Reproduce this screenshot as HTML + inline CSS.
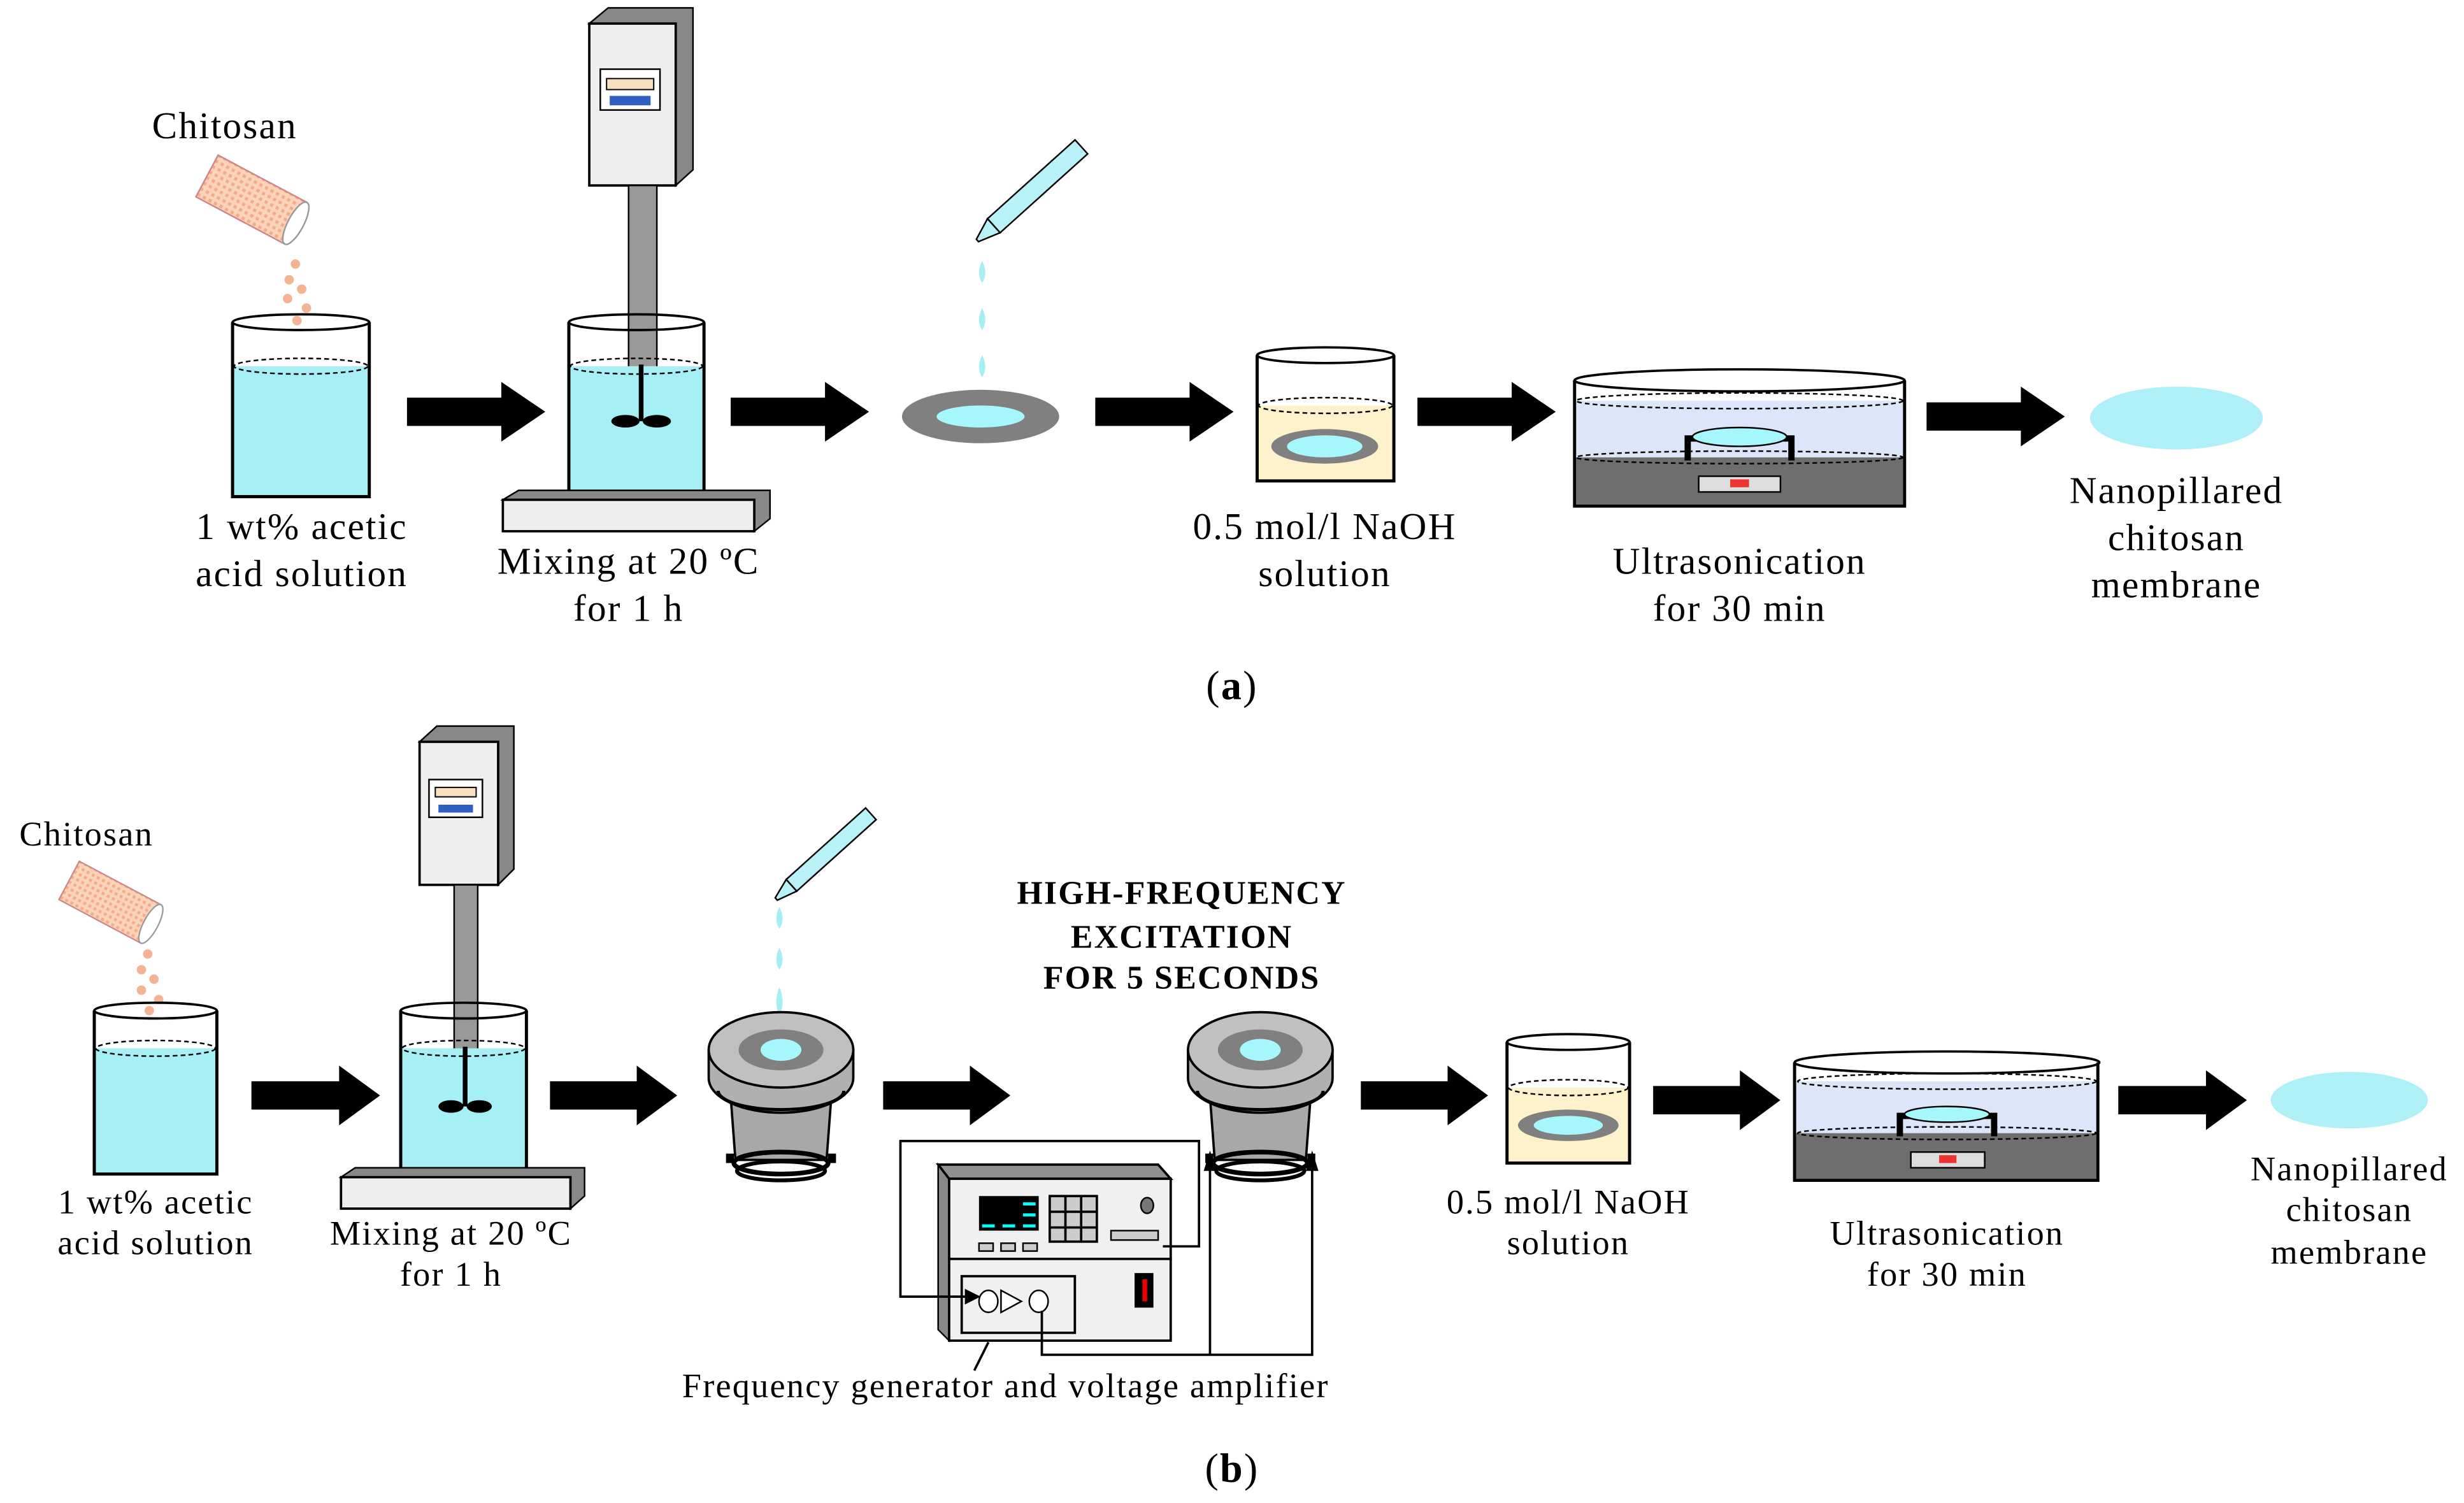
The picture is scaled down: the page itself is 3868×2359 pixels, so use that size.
<!DOCTYPE html>
<html><head><meta charset="utf-8"><style>html,body{margin:0;padding:0;background:#fff}svg{display:block}text{letter-spacing:0.9px}</style></head><body>
<svg width="3868" height="2359" viewBox="0 0 1568 956.3" preserveAspectRatio="none" xmlns="http://www.w3.org/2000/svg" font-family="'Liberation Serif',serif">
<defs>
<g id="arrow"><polygon points="0,-9 60,-9 60,-19 88,0 60,19 60,9 0,9" fill="#000"/></g>
<pattern id="pk" width="4" height="4" patternUnits="userSpaceOnUse"><rect width="4" height="4" fill="#fbd3b8"/><rect width="2" height="2" fill="#f5a98a"/></pattern>
<g id="tube"><g transform="rotate(28)"><rect x="-32" y="-15" width="64" height="30" fill="url(#pk)" stroke="#c88" stroke-width="1"/><ellipse cx="32" cy="0" rx="5" ry="15" fill="#fff" stroke="#999"/></g></g>
<g id="holder">
<path d="M-32,30 L-29,70 L29,70 L32,30 Z" fill="#a8a8a8" stroke="#000" stroke-width="1.5"/>
<path d="M-46,0 L-46,18 A46,22 0 0 0 46,18 L46,0 Z" fill="#b0b0b0" stroke="#000" stroke-width="1.5"/>
<path d="M-40,26 A40,12 0 0 0 40,26" fill="none" stroke="#000" stroke-width="2"/>
<ellipse cx="0" cy="0" rx="46" ry="24" fill="#c0c0c0" stroke="#000" stroke-width="1.5"/>
<ellipse cx="0" cy="0" rx="27" ry="13" fill="#808080"/>
<ellipse cx="0" cy="0" rx="13" ry="7" fill="#a6f7fb"/>
<ellipse cx="0" cy="72" rx="30" ry="7" fill="none" stroke="#000" stroke-width="3"/>
<ellipse cx="0" cy="77" rx="28" ry="6" fill="none" stroke="#000" stroke-width="2.5"/>
<rect x="-35" y="66" width="5" height="6" fill="#000"/><rect x="30" y="66" width="5" height="6" fill="#000"/>
</g>
</defs>

<!-- ========== (a) ========== -->
<text x="143" y="88" font-size="24" text-anchor="middle">Chitosan</text>
<use href="#tube" transform="translate(160,127)"/>
<g fill="#f5b395"><circle cx="188" cy="168" r="3"/><circle cx="184" cy="178" r="3"/><circle cx="192" cy="184" r="3"/><circle cx="183" cy="190" r="3"/><circle cx="195" cy="196" r="3"/><circle cx="189" cy="204" r="3"/></g>
<rect x="149" y="233" width="85" height="82" fill="#a6f0f5"/>
<ellipse cx="191.5" cy="233" rx="42.5" ry="5" fill="none" stroke="#000" stroke-dasharray="3,2"/>
<path d="M148,205 L148,316 L235,316 L235,205" fill="none" stroke="#000" stroke-width="2"/>
<ellipse cx="191.5" cy="205" rx="43.5" ry="5" fill="none" stroke="#000" stroke-width="1.5"/>
<text font-size="24" text-anchor="middle"><tspan x="192" y="343">1 wt% acetic</tspan><tspan x="192" y="373">acid solution</tspan></text>
<use href="#arrow" transform="translate(259,262)"/>
<polygon points="375,15 387,5 441,5 441,108 430,118 430,15" fill="#888" stroke="#000"/>
<rect x="375" y="15" width="55" height="103" fill="#eee" stroke="#000" stroke-width="1.5"/>
<rect x="382" y="44" width="38" height="26" fill="#fff" stroke="#000"/>
<rect x="386" y="50" width="30" height="7" fill="#f6e0c0" stroke="#000" stroke-width=".8"/>
<rect x="388" y="61" width="26" height="6" fill="#3060c0"/>
<rect x="400" y="118" width="18" height="150" fill="#999" stroke="#000"/>
<rect x="363" y="233" width="84" height="82" fill="#a6f0f5"/>
<ellipse cx="405" cy="233" rx="42" ry="5" fill="none" stroke="#000" stroke-dasharray="3,2"/>
<path d="M362,205 L362,316 L448,316 L448,205" fill="none" stroke="#000" stroke-width="2"/>
<ellipse cx="405" cy="205" rx="43" ry="5" fill="none" stroke="#000" stroke-width="1.5"/>
<line x1="408" y1="232" x2="408" y2="268" stroke="#000" stroke-width="3"/>
<ellipse cx="398" cy="268" rx="9" ry="4" fill="#000"/><ellipse cx="418" cy="268" rx="9" ry="4" fill="#000"/>
<polygon points="320,318 330,312 490,312 490,330 480,338 480,318" fill="#888" stroke="#000"/>
<rect x="320" y="318" width="160" height="20" fill="#eee" stroke="#000" stroke-width="1.5"/>
<text font-size="24" text-anchor="middle"><tspan x="400" y="365">Mixing at 20 ºC</tspan><tspan x="400" y="395">for 1 h</tspan></text>
<use href="#arrow" transform="translate(465,262)"/>
<g transform="translate(622,153) rotate(-42)"><rect x="14" y="-6" width="75" height="12" fill="#b8f2f8" stroke="#000"/><polygon points="14,-6 0,-1 0,1 14,6" fill="#b8f2f8" stroke="#000"/></g>
<g fill="#a6eef5"><path d="M625,166 q4,8 0,14 q-4,-6 0,-14z"/><path d="M625,196 q4,8 0,14 q-4,-6 0,-14z"/><path d="M625,226 q4,8 0,14 q-4,-6 0,-14z"/></g>
<ellipse cx="624" cy="265" rx="50" ry="17" fill="#808080"/>
<ellipse cx="624" cy="265" rx="28" ry="7" fill="#a6f7fb"/>
<use href="#arrow" transform="translate(697,262)"/>
<rect x="801" y="258" width="85" height="47" fill="#fdf2cc"/>
<ellipse cx="843.5" cy="258" rx="42.5" ry="5" fill="none" stroke="#000" stroke-dasharray="3,2"/>
<ellipse cx="843" cy="284" rx="34" ry="11" fill="#808080"/><ellipse cx="843" cy="284" rx="24" ry="7" fill="#a6f7fb"/>
<path d="M800,226 L800,306 L887,306 L887,226" fill="none" stroke="#000" stroke-width="2"/>
<ellipse cx="843.5" cy="226" rx="43.5" ry="5" fill="none" stroke="#000" stroke-width="1.5"/>
<text font-size="24" text-anchor="middle"><tspan x="843" y="343">0.5 mol/l NaOH</tspan><tspan x="843" y="373">solution</tspan></text>
<use href="#arrow" transform="translate(902,262)"/>
<rect x="1003" y="255" width="208" height="36" fill="#dde6f8"/>
<rect x="1003" y="291" width="208" height="30" fill="#6e6e6e"/>
<ellipse cx="1107" cy="291" rx="104" ry="4" fill="none" stroke="#000" stroke-dasharray="3,2"/>
<ellipse cx="1107" cy="255" rx="104" ry="5" fill="none" stroke="#000" stroke-dasharray="3,2"/>
<path d="M1002,242 L1002,322 L1212,322 L1212,242" fill="none" stroke="#000" stroke-width="2"/>
<ellipse cx="1107" cy="242" rx="105" ry="7" fill="none" stroke="#000" stroke-width="1.5"/>
<path d="M1074,293 L1074,279 L1140,279 L1140,293" fill="none" stroke="#000" stroke-width="4"/>
<ellipse cx="1107" cy="278" rx="30" ry="6" fill="#a6f7fb" stroke="#000"/>
<rect x="1081" y="303" width="52" height="10" fill="#ddd" stroke="#000"/><rect x="1101" y="305" width="12" height="5" fill="#e33"/>
<text font-size="24" text-anchor="middle"><tspan x="1107" y="365">Ultrasonication</tspan><tspan x="1107" y="395">for 30 min</tspan></text>
<use href="#arrow" transform="translate(1226,265)"/>
<ellipse cx="1385" cy="266" rx="55" ry="20" fill="#aef0f5"/>
<text font-size="24" text-anchor="middle"><tspan x="1385" y="320">Nanopillared</tspan><tspan x="1385" y="350">chitosan</tspan><tspan x="1385" y="380">membrane</tspan></text>
<text x="784" y="445" font-size="26" text-anchor="middle">(<tspan font-weight="bold">a</tspan>)</text>

<!-- ========== (b) ========== -->
<text x="55" y="538" font-size="22" text-anchor="middle">Chitosan</text>
<use href="#tube" transform="translate(70,574) scale(0.92)"/>
<g fill="#f5b395"><circle cx="94" cy="607" r="3"/><circle cx="90" cy="617" r="3"/><circle cx="98" cy="623" r="3"/><circle cx="90" cy="630" r="3"/><circle cx="101" cy="636" r="3"/><circle cx="95" cy="643" r="3"/></g>
<rect x="61" y="667" width="76" height="79" fill="#a6f0f5"/>
<ellipse cx="99" cy="667" rx="38" ry="5" fill="none" stroke="#000" stroke-dasharray="3,2"/>
<path d="M60,643 L60,747 L138,747 L138,643" fill="none" stroke="#000" stroke-width="2"/>
<ellipse cx="99" cy="643" rx="39" ry="5" fill="none" stroke="#000" stroke-width="1.5"/>
<text font-size="22" text-anchor="middle"><tspan x="99" y="772">1 wt% acetic</tspan><tspan x="99" y="798">acid solution</tspan></text>
<use href="#arrow" transform="translate(160,697) scale(0.93,1)"/>
<polygon points="267,472 278,462 327,462 327,553 317,563 317,472" fill="#888" stroke="#000"/>
<rect x="267" y="472" width="50" height="91" fill="#eee" stroke="#000" stroke-width="1.5"/>
<rect x="273" y="496" width="34" height="24" fill="#fff" stroke="#000"/>
<rect x="277" y="501" width="26" height="6" fill="#f6e0c0" stroke="#000" stroke-width=".8"/>
<rect x="279" y="512" width="22" height="5" fill="#3060c0"/>
<rect x="289" y="563" width="15" height="142" fill="#999" stroke="#000"/>
<rect x="256" y="667" width="78" height="79" fill="#a6f0f5"/>
<ellipse cx="295" cy="667" rx="39" ry="5" fill="none" stroke="#000" stroke-dasharray="3,2"/>
<path d="M255,643 L255,747 L335,747 L335,643" fill="none" stroke="#000" stroke-width="2"/>
<ellipse cx="295" cy="643" rx="40" ry="5" fill="none" stroke="#000" stroke-width="1.5"/>
<line x1="296" y1="666" x2="296" y2="704" stroke="#000" stroke-width="3"/>
<ellipse cx="287" cy="704" rx="8" ry="4" fill="#000"/><ellipse cx="305" cy="704" rx="8" ry="4" fill="#000"/>
<polygon points="217,749 226,743 372,743 372,761 363,769 363,749" fill="#888" stroke="#000"/>
<rect x="217" y="749" width="146" height="20" fill="#eee" stroke="#000" stroke-width="1.5"/>
<text font-size="22" text-anchor="middle"><tspan x="287" y="792">Mixing at 20 ºC</tspan><tspan x="287" y="818">for 1 h</tspan></text>
<use href="#arrow" transform="translate(350,697) scale(0.92,1)"/>
<g transform="translate(494,572) rotate(-42)"><rect x="13" y="-5" width="68" height="10" fill="#b8f2f8" stroke="#000"/><polygon points="13,-5 0,-1 0,1 13,5" fill="#b8f2f8" stroke="#000"/></g>
<g fill="#a6eef5"><path d="M496,577 q4,8 0,14 q-4,-6 0,-14z"/><path d="M496,603 q4,8 0,14 q-4,-6 0,-14z"/><path d="M496,628 q4,10 0,18 q-4,-8 0,-18z"/></g>
<use href="#holder" transform="translate(497,668)"/>
<use href="#arrow" transform="translate(562,697) scale(0.92,1)"/>
<text font-size="21" font-weight="bold" text-anchor="middle"><tspan x="752" y="575">HIGH-FREQUENCY</tspan><tspan x="752" y="603">EXCITATION</tspan><tspan x="752" y="629">FOR 5 SECONDS</tspan></text>
<use href="#holder" transform="translate(802,668)"/>
<polygon points="597,741 604,750 604,853 597,846" fill="#888" stroke="#000"/>
<polygon points="597,741 737,741 745,750 604,750" fill="#909090" stroke="#000" stroke-width="1.5"/>
<rect x="604" y="750" width="141" height="51" fill="#f0f0f0" stroke="#000" stroke-width="1.5"/>
<rect x="604" y="801" width="141" height="52" fill="#f0f0f0" stroke="#000" stroke-width="1.5"/>
<rect x="623" y="761" width="38" height="22" fill="#000"/>
<g fill="#0ff"><rect x="651" y="765" width="8" height="2"/><rect x="651" y="772" width="8" height="2"/><rect x="625" y="779" width="8" height="2"/><rect x="638" y="779" width="8" height="2"/><rect x="651" y="779" width="8" height="2"/></g>
<rect x="668" y="761" width="30" height="29" fill="#ccc" stroke="#000" stroke-width="1.5"/>
<path d="M678,761v29M688,761v29M668,771h30M668,781h30" stroke="#000" stroke-width="1.5"/>
<ellipse cx="730" cy="767" rx="4" ry="5" fill="#777" stroke="#000"/>
<rect x="707" y="783" width="30" height="6" fill="#ccc" stroke="#000"/>
<g fill="#ccc" stroke="#000"><rect x="623" y="791" width="9" height="5"/><rect x="637" y="791" width="9" height="5"/><rect x="651" y="791" width="9" height="5"/></g>
<rect x="612" y="812" width="72" height="36" fill="none" stroke="#000" stroke-width="1.5"/>
<rect x="722" y="810" width="12" height="22" fill="#000"/><rect x="727" y="814" width="3" height="14" fill="#e00"/>
<ellipse cx="629" cy="828" rx="6" ry="7" fill="#fff" stroke="#000"/>
<polygon points="637,821 650,828 637,835" fill="#fff" stroke="#000"/>
<ellipse cx="661" cy="828" rx="6" ry="7" fill="#fff" stroke="#000"/>
<g fill="none" stroke="#000" stroke-width="1.5">
<path d="M740,793 H763 V726 H573 V825 H618"/>
<path d="M663,834 V862 H835 V742"/>
<path d="M770,862 V742"/>
<path d="M629,854 L620,872"/>
</g>
<polygon points="624,825 614,820 614,830" fill="#000"/>
<polygon points="770,732 766,745 774,745" fill="#000"/>
<polygon points="835,732 831,745 839,745" fill="#000"/>
<text x="640" y="889" font-size="22" text-anchor="middle">Frequency generator and voltage amplifier</text>
<use href="#arrow" transform="translate(866,697) scale(0.92,1)"/>
<rect x="960" y="692" width="76" height="47" fill="#fdf2cc"/>
<ellipse cx="998" cy="692" rx="38" ry="5" fill="none" stroke="#000" stroke-dasharray="3,2"/>
<ellipse cx="998" cy="716" rx="32" ry="10" fill="#808080"/><ellipse cx="998" cy="716" rx="22" ry="6" fill="#a6f7fb"/>
<path d="M959,663 L959,740 L1037,740 L1037,663" fill="none" stroke="#000" stroke-width="2"/>
<ellipse cx="998" cy="663" rx="39" ry="5" fill="none" stroke="#000" stroke-width="1.5"/>
<text font-size="22" text-anchor="middle"><tspan x="998" y="772">0.5 mol/l NaOH</tspan><tspan x="998" y="798">solution</tspan></text>
<use href="#arrow" transform="translate(1052,700) scale(0.92,1)"/>
<rect x="1143" y="688" width="191" height="33" fill="#dde6f8"/>
<rect x="1143" y="721" width="191" height="29" fill="#6e6e6e"/>
<ellipse cx="1239" cy="721" rx="95" ry="4" fill="none" stroke="#000" stroke-dasharray="3,2"/>
<ellipse cx="1239" cy="688" rx="95" ry="5" fill="none" stroke="#000" stroke-dasharray="3,2"/>
<path d="M1142,676 L1142,751 L1335,751 L1335,676" fill="none" stroke="#000" stroke-width="2"/>
<ellipse cx="1239" cy="676" rx="97" ry="7" fill="none" stroke="#000" stroke-width="1.5"/>
<path d="M1209,723 L1209,710 L1269,710 L1269,723" fill="none" stroke="#000" stroke-width="4"/>
<ellipse cx="1239" cy="709" rx="27" ry="5" fill="#a6f7fb" stroke="#000"/>
<rect x="1216" y="733" width="47" height="10" fill="#ddd" stroke="#000"/><rect x="1234" y="735" width="11" height="5" fill="#e33"/>
<text font-size="22" text-anchor="middle"><tspan x="1239" y="792">Ultrasonication</tspan><tspan x="1239" y="818">for 30 min</tspan></text>
<use href="#arrow" transform="translate(1348,700) scale(0.93,1)"/>
<ellipse cx="1495" cy="700" rx="50" ry="18" fill="#aef0f5"/>
<text font-size="22" text-anchor="middle"><tspan x="1495" y="751">Nanopillared</tspan><tspan x="1495" y="777">chitosan</tspan><tspan x="1495" y="804">membrane</tspan></text>
<text x="784" y="943" font-size="26" text-anchor="middle">(<tspan font-weight="bold">b</tspan>)</text>
</svg>
</body></html>
